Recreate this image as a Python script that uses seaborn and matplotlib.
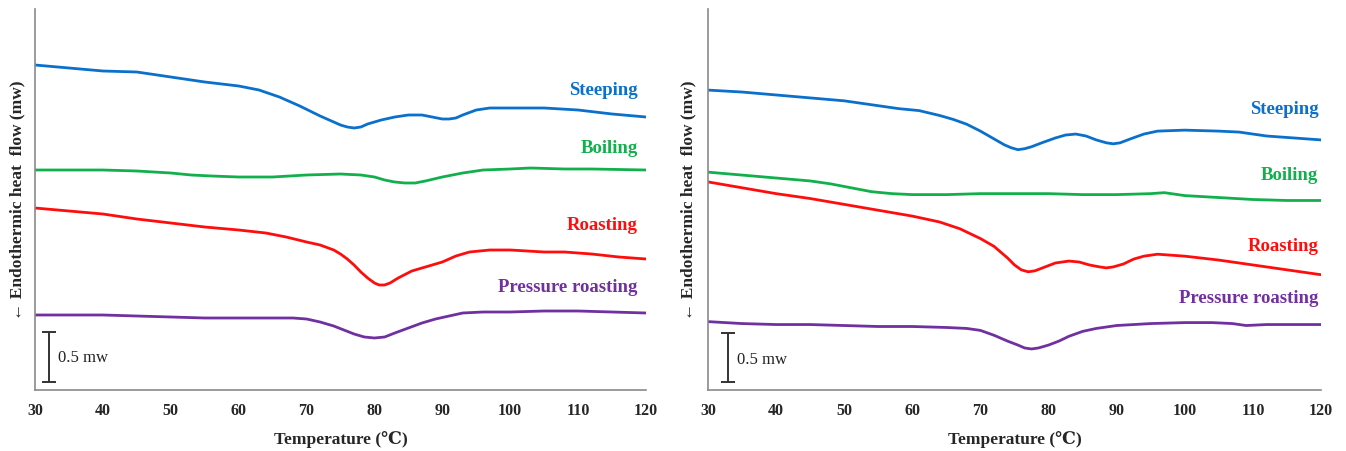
import numpy as np
import pandas as pd
import matplotlib
matplotlib.use("Agg")
import matplotlib.pyplot as plt
import seaborn as sns

# ---------------- data ----------------
treatments = ["Steeping", "Boiling", "Roasting", "Pressure roasting"]
colors = ["#0a70cc", "#12b04c", "#ff0d0d", "#7030a0"]

# Left panel
L_steep_T = [30, 35, 40, 45, 50, 55, 60, 63, 66, 69, 72, 74, 75, 76, 77, 78, 79, 81, 83, 85, 87, 88.5, 90, 91, 92, 93, 95, 97, 100, 105, 110, 115, 120]
L_steep_v = [2.95, 2.92, 2.89, 2.88, 2.83, 2.78, 2.74, 2.70, 2.63, 2.54, 2.44, 2.38, 2.35, 2.33, 2.32, 2.33, 2.36, 2.40, 2.43, 2.45, 2.45, 2.43, 2.41, 2.41, 2.42, 2.45, 2.50, 2.52, 2.52, 2.52, 2.50, 2.46, 2.43]
L_boil_T = [30, 35, 40, 45, 50, 53, 56, 60, 65, 70, 75, 78, 80, 81.5, 83, 84.5, 86, 87.5, 90, 93, 96, 100, 103, 108, 112, 120]
L_boil_v = [1.90, 1.90, 1.90, 1.89, 1.87, 1.85, 1.84, 1.83, 1.83, 1.85, 1.86, 1.85, 1.83, 1.80, 1.78, 1.77, 1.77, 1.79, 1.83, 1.87, 1.90, 1.91, 1.92, 1.91, 1.91, 1.90]
L_roast_T = [30, 35, 40, 45, 50, 55, 60, 64, 67, 70, 72, 74, 75, 76, 77, 78, 79, 80, 80.7, 81.5, 82.3, 83.5, 85.5, 88, 90, 92, 94, 97, 100, 105, 108, 112, 116, 120]
L_roast_v = [1.52, 1.49, 1.46, 1.41, 1.37, 1.33, 1.30, 1.27, 1.23, 1.18, 1.15, 1.10, 1.06, 1.01, 0.95, 0.88, 0.82, 0.77, 0.75, 0.75, 0.77, 0.82, 0.89, 0.94, 0.98, 1.04, 1.08, 1.10, 1.10, 1.08, 1.08, 1.06, 1.03, 1.01]
L_press_T = [30, 35, 40, 45, 50, 55, 60, 65, 68, 70, 72, 74, 75.5, 77, 78.5, 80, 81.5, 83, 85, 87, 89, 91, 93, 96, 100, 105, 110, 115, 120]
L_press_v = [0.45, 0.45, 0.45, 0.44, 0.43, 0.42, 0.42, 0.42, 0.42, 0.41, 0.38, 0.34, 0.30, 0.26, 0.23, 0.22, 0.23, 0.27, 0.32, 0.37, 0.41, 0.44, 0.47, 0.48, 0.48, 0.49, 0.49, 0.48, 0.47]

# Right panel
R_steep_T = [30, 35, 40, 45, 50, 55, 58, 61, 64, 66, 68, 70, 72, 73.5, 74.5, 75.5, 76.5, 77.5, 79, 81, 82.5, 84, 85.5, 87, 88.5, 89.5, 90.5, 92, 94, 96, 100, 105, 108, 112, 116, 120]
R_steep_v = [2.67, 2.65, 2.62, 2.59, 2.56, 2.51, 2.48, 2.46, 2.41, 2.37, 2.32, 2.25, 2.17, 2.11, 2.08, 2.06, 2.07, 2.09, 2.13, 2.18, 2.21, 2.22, 2.20, 2.16, 2.13, 2.12, 2.13, 2.17, 2.22, 2.25, 2.26, 2.25, 2.24, 2.20, 2.18, 2.16]
R_boil_T = [30, 35, 40, 45, 48, 51, 54, 57, 60, 65, 70, 75, 80, 85, 90, 95, 97, 100, 105, 110, 115, 120]
R_boil_v = [1.83, 1.80, 1.77, 1.74, 1.71, 1.67, 1.63, 1.61, 1.60, 1.60, 1.61, 1.61, 1.61, 1.60, 1.60, 1.61, 1.62, 1.59, 1.57, 1.55, 1.54, 1.54]
R_roast_T = [30, 35, 40, 45, 50, 55, 60, 64, 67, 70, 72, 73, 74, 75, 76, 77, 78, 79.5, 81, 83, 84.5, 86, 87.5, 88.5, 89.5, 91, 92.5, 94, 96, 100, 105, 110, 115, 120]
R_roast_v = [1.73, 1.67, 1.61, 1.56, 1.50, 1.44, 1.38, 1.32, 1.25, 1.15, 1.07, 1.01, 0.95, 0.88, 0.83, 0.81, 0.82, 0.86, 0.90, 0.92, 0.91, 0.88, 0.86, 0.85, 0.86, 0.89, 0.94, 0.97, 0.99, 0.97, 0.93, 0.88, 0.83, 0.78]
R_press_T = [30, 35, 40, 45, 50, 55, 60, 65, 68, 70, 72, 74, 75.5, 76.5, 77.5, 78.5, 80, 81.5, 83, 85, 87, 90, 95, 100, 104, 107, 109, 112, 120]
R_press_v = [0.30, 0.28, 0.27, 0.27, 0.26, 0.25, 0.25, 0.24, 0.23, 0.21, 0.16, 0.10, 0.06, 0.03, 0.02, 0.03, 0.06, 0.10, 0.15, 0.20, 0.23, 0.26, 0.28, 0.29, 0.29, 0.28, 0.26, 0.27, 0.27]

x_ticks = [30, 40, 50, 60, 70, 80, 90, 100, 110, 120]
xlabel = "Temperature (\u2103)"
ylabel = "\u2190 Endothermic heat  flow (mw)"
scale_text = "0.5 mw"


def make_df(series):
    frames = []
    for name, T, v in series:
        frames.append(pd.DataFrame({"Temperature": T, "Heat flow": v, "Treatment": name}))
    return pd.concat(frames, ignore_index=True)


left_df = make_df([
    ("Steeping", L_steep_T, L_steep_v),
    ("Boiling", L_boil_T, L_boil_v),
    ("Roasting", L_roast_T, L_roast_v),
    ("Pressure roasting", L_press_T, L_press_v),
])
right_df = make_df([
    ("Steeping", R_steep_T, R_steep_v),
    ("Boiling", R_boil_T, R_boil_v),
    ("Roasting", R_roast_T, R_roast_v),
    ("Pressure roasting", R_press_T, R_press_v),
])

# ---------------- styling ----------------
sns.set_style("white")
serif = ["Liberation Serif", "DejaVu Serif"]
plt.rcParams["font.family"] = serif

palette = dict(zip(treatments, colors))

fig = plt.figure(figsize=(13.46, 4.52), dpi=100)
ax_l = fig.add_axes([35 / 1346, 61 / 452, 611 / 1346, 381 / 452])
ax_r = fig.add_axes([708 / 1346, 61 / 452, 613 / 1346, 381 / 452])

panels = [
    (ax_l, left_df, (-0.30, 3.51), 118.8, [2.70, 2.12, 1.35, 0.73], 32.1, 0.035, 33.4, 0.03, 3.5),
    (ax_r, right_df, (-0.40, 3.50), 119.6, [2.48, 1.81, 1.08, 0.55], 33.0, -0.07, 34.3, -0.08, 5),
]

for ax, df, ylim, lab_x, lab_y, sb_x, sb_mid, st_x, st_y, ylpad in panels:
    sns.lineplot(data=df, x="Temperature", y="Heat flow", hue="Treatment",
                 hue_order=treatments, palette=palette, linewidth=2.0,
                 legend=False, ax=ax, estimator=None)
    ax.set_xlim(30, 120)
    ax.set_ylim(*ylim)
    ax.set_xticks(x_ticks)
    ax.set_yticks(np.arange(0, 3.51, 0.5))
    ax.set_yticklabels([])
    for t in ax.get_xticklabels():
        t.set_fontweight("bold")
        t.set_fontsize(11.5)
    ax.tick_params(axis="x", direction="in", length=4, width=1, color="#808080", pad=9)
    ax.tick_params(axis="y", direction="in", length=4, width=1, color="#808080")
    for side in ["top", "right"]:
        ax.spines[side].set_visible(False)
    for side in ["left", "bottom"]:
        ax.spines[side].set_color("#8a8a8a")
        ax.spines[side].set_linewidth(1.2)
    ax.set_xlabel(xlabel, fontsize=12.5, fontweight="bold", labelpad=8)
    ax.set_ylabel(ylabel, fontsize=12.5, fontweight="bold", labelpad=ylpad)

    for name, y in zip(treatments, lab_y):
        ax.text(lab_x, y, name, color=palette[name], fontsize=13.5,
                fontweight="bold", ha="right", va="center")

    ax.errorbar([sb_x], [sb_mid], yerr=[0.25], color="#333333", lw=1.4,
                capsize=5, capthick=1.4, fmt="none")
    ax.text(st_x, st_y, scale_text, fontsize=12, ha="left", va="center",
            color="#222222")

fig.savefig("out.png", dpi=100)
